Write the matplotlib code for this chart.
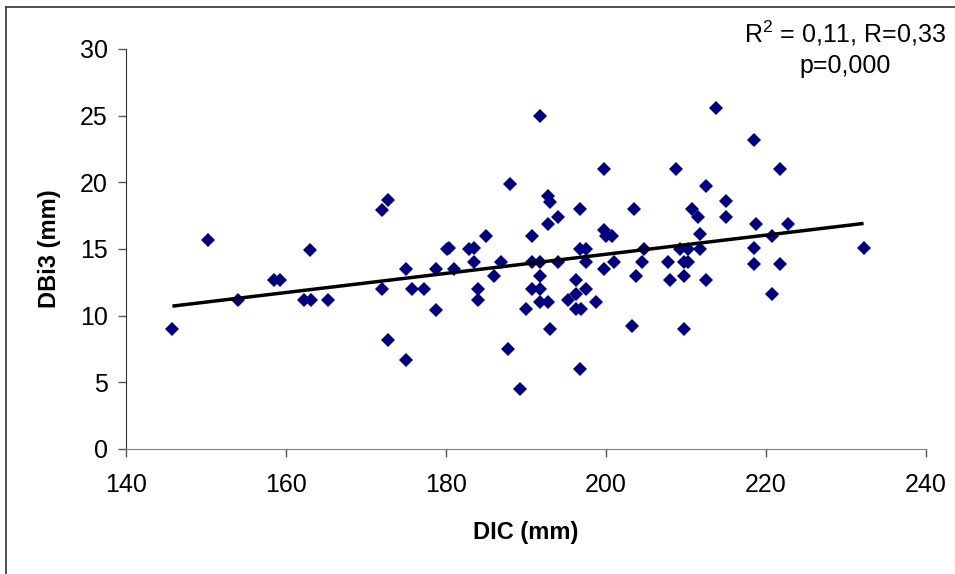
import numpy as np
import matplotlib
matplotlib.use("Agg")
import matplotlib.pyplot as plt
from matplotlib.lines import Line2D

plt.rcParams["font.family"] = ["Liberation Sans", "DejaVu Sans"]
plt.rcParams["mathtext.fontset"] = "custom"
plt.rcParams["mathtext.rm"] = "Liberation Sans"
plt.rcParams["mathtext.it"] = "Liberation Sans:italic"
plt.rcParams["mathtext.bf"] = "Liberation Sans:bold"

# DIC (mm) vs DBi3 (mm)
dic = [
    145.8, 150.3, 154.0, 158.5, 159.3, 162.2, 163.1, 163.0, 165.3, 172.0,
    172.8, 172.0, 172.8, 175.0, 175.0, 175.7, 177.2, 178.8, 178.8, 180.1,
    180.4, 181.0, 182.9, 183.5, 183.5, 184.0, 184.0, 185.0, 186.0, 186.9,
    187.7, 188.0, 189.3, 190.0, 190.8, 190.8, 190.8, 191.8, 191.8, 191.8,
    191.8, 191.8, 192.8, 193.0, 192.8, 192.8, 193.0, 194.0, 194.0, 195.3,
    196.3, 196.3, 197.5, 196.3, 196.9, 198.8, 196.8, 196.8, 197.5, 197.5,
    196.8, 199.8, 199.8, 200.0, 200.8, 199.8, 201.0, 203.3, 203.5, 203.8,
    204.5, 204.8, 207.8, 208.0, 208.7, 209.3, 209.7, 210.2, 209.7, 209.7,
    210.2, 210.7, 211.5, 211.7, 211.7, 213.7, 218.5, 221.7, 212.5, 215.0,
    215.0, 218.8, 222.8, 220.7, 218.5, 232.2, 218.5, 221.7, 212.5, 220.7,
]
dbi3 = [
    9.0, 15.7, 11.2, 12.7, 12.7, 11.2, 11.2, 14.9, 11.2, 17.9,
    18.7, 12.0, 8.2, 13.5, 6.7, 12.0, 12.0, 13.5, 10.4, 15.0,
    15.1, 13.5, 15.0, 15.1, 14.0, 12.0, 11.2, 16.0, 13.0, 14.0,
    7.5, 19.9, 4.5, 10.5, 16.0, 14.0, 12.0, 25.0, 14.0, 13.0,
    12.0, 11.0, 19.0, 18.5, 16.9, 11.0, 9.0, 17.4, 14.0, 11.2,
    12.7, 11.6, 12.0, 10.5, 10.5, 11.0, 18.0, 15.0, 15.0, 14.0,
    6.0, 21.0, 16.4, 16.0, 16.0, 13.5, 14.0, 9.2, 18.0, 13.0,
    14.0, 15.0, 14.0, 12.7, 21.0, 15.0, 14.0, 14.0, 13.0, 9.0,
    15.0, 18.0, 17.4, 16.1, 15.0, 25.6, 23.2, 21.0, 19.7, 18.6,
    17.4, 16.9, 16.9, 16.0, 15.1, 15.1, 13.9, 13.9, 12.7, 11.6,
]

x_ticks = [140, 160, 180, 200, 220, 240]
y_ticks = [0, 5, 10, 15, 20, 25, 30]
stats_line1 = "R$^2$ = 0,11, R=0,33"
stats_line2 = "p=0,000"

fig = plt.figure(figsize=(9.55, 5.74), dpi=100)
ax = fig.add_axes([126 / 955, 1 - 449 / 574, 800 / 955, 400 / 574])

x = np.array(dic)
y = np.array(dbi3)
ax.plot(x, y, linestyle="none", marker="D", markersize=6.8,
        color="#000080", markeredgewidth=0)

# linear trend line over the data range
slope, intercept = np.polyfit(x, y, 1)
xl = np.array([x.min(), x.max()])
ax.plot(xl, slope * xl + intercept, color="black", linewidth=2.5,
        solid_capstyle="butt")

ax.set_xlim(140, 240)
ax.set_ylim(0, 30)
ax.set_xticks(x_ticks)
ax.set_yticks(y_ticks)
ax.tick_params(axis="y", direction="out", length=6, width=1, color="#555555",
               labelsize=18, pad=7)
ax.tick_params(axis="x", direction="out", length=6, width=1, color="#555555",
               labelsize=18, pad=11.5)

for side in ("top", "right"):
    ax.spines[side].set_visible(False)
ax.spines["left"].set_color("#333333")
ax.spines["bottom"].set_color("#808080")

ax.set_xlabel("DIC (mm)", fontsize=17, fontweight="bold", labelpad=17)
ax.set_ylabel("DBi3 (mm)", fontsize=17, fontweight="bold", labelpad=14)

fig.text(845 / 955, 1 - 43 / 574, stats_line1, ha="center", va="baseline",
         fontsize=18)
fig.text(845 / 955, 1 - 73 / 574, stats_line2, ha="center", va="baseline",
         fontsize=18)

# chart area border (partly cropped in the reference)
bx, by = 6 / 955, 1 - 7 / 574
fig.add_artist(Line2D([bx, bx], [0, by], transform=fig.transFigure,
                      color="#333333", linewidth=1.2))
fig.add_artist(Line2D([bx, 1], [by, by], transform=fig.transFigure,
                      color="#333333", linewidth=1.2))

fig.savefig("out.png", dpi=100)
